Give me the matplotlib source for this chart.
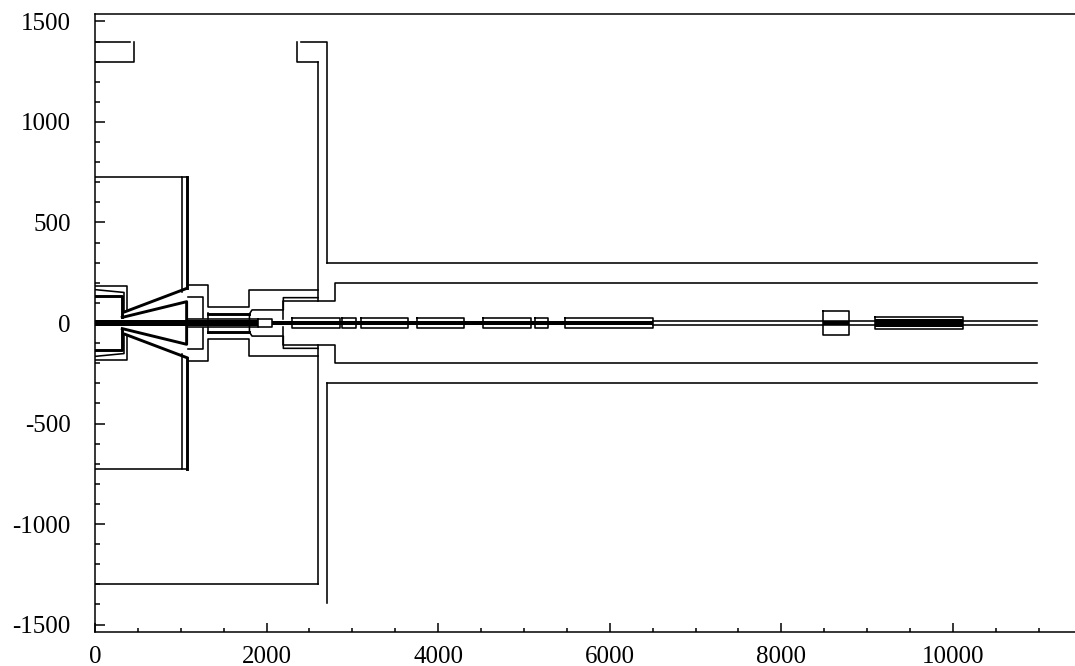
import matplotlib
matplotlib.use("Agg")
import matplotlib.pyplot as plt
from matplotlib.ticker import MultipleLocator

plt.rcParams['font.family'] = ['Liberation Serif', 'DejaVu Serif']

# half profiles, drawn on both sides of the axis (x list, y list)
wall_x = [1010, 1010, 0]
wall_y = [155, 725, 725]
wall2_x = [1010, 1068]
wall2_y = [725, 725]
shaft_x = [2600, 2600]
shaft_y = [1300, 109]
lead_x = [0, 377, 377]
lead_y = [184, 184, 58]
lead2_x = [0, 338, 338]
lead2_y = [166, 152, 56]
step_x = [1088, 1320, 1320, 1800, 1800, 2600]
step_y = [189, 189, 78, 78, 164, 164]
step2_x = [1088, 1255, 1255]
step2_y = [131, 131, 23]
step3_x = [1800, 1800, 1830, 2195, 2195, 2600]
step3_y = [18, 45, 65, 65, 126, 126]
step4_x = [2195, 2195, 2797, 2797, 10980]
step4_y = [18, 109, 109, 200, 200]
tube_x = [2700, 10980]
tube_y = [300, 300]
inner_x = [1068, 1904]
inner_y = [18, 18]
bore_x = [6499, 10980]
bore_y = [12, 12]
pipe_end_x = [1320, 1320]
pipe_end_y = [18, 48]

# thick parts
cone_out_x = [350, 1068]
cone_out_y = [56, 172]
cone_in_x = [318, 318, 0]
cone_in_y = [28, 133, 133]
cone_x = [318, 1068, 1068]
cone_y = [28, 106, 20]
wall3_x = [1068, 1068]
wall3_y = [172, 725]
pipe_x = [1320, 1800]
pipe_y = [44, 44]

# lower side only
cave_x = [0, 2600]
cave_y = [-1300, -1300]
tube_low_x = [2700, 2700]
tube_low_y = [-1395, -300]

# upper side only
notch_left_x = [0, 410]
notch_left_y = [1400, 1400]
notch_right_x = [455, 455, 0]
notch_right_y = [1400, 1300, 1300]
notch2_x = [2350, 2350, 2600]
notch2_y = [1400, 1300, 1300]
top_x = [2400, 2700, 2700]
top_y = [1400, 1400, 300]

# beam line elements: start, end, half height
box_start = [1904, 2296, 2883, 3096, 3749, 4518, 5125, 5474, 8488, 9091]
box_end = [2059, 2855, 3037, 3652, 4301, 5077, 5279, 6499, 8788, 10113]
box_half = [18, 23, 23, 23, 23, 23, 23, 23, 60, 30]

# black core: start, end, half height
core_start = [0, 1068, 2059, 8488, 9091]
core_end = [1068, 1904, 6499, 8788, 10113]
core_half = [14, 16, 10, 12, 18]

THIN = 1.15
THICK = 2.1

fig = plt.figure(figsize=(10.75, 6.66), dpi=100)
ax = fig.add_axes([95 / 1075, 34 / 666, 980 / 1075, 618 / 666])


def both(x, y, lw=THIN):
    ax.plot(x, y, color='black', lw=lw)
    ax.plot(x, [-v for v in y], color='black', lw=lw)


for x, y in [(wall_x, wall_y), (wall2_x, wall2_y), (shaft_x, shaft_y),
             (lead_x, lead_y), (lead2_x, lead2_y), (step_x, step_y),
             (step2_x, step2_y), (step3_x, step3_y), (step4_x, step4_y),
             (tube_x, tube_y), (inner_x, inner_y), (bore_x, bore_y),
             (pipe_end_x, pipe_end_y)]:
    both(x, y)

for x, y in [(cone_out_x, cone_out_y), (cone_in_x, cone_in_y), (cone_x, cone_y),
             (wall3_x, wall3_y), (pipe_x, pipe_y)]:
    both(x, y, THICK)

for x, y in [(cave_x, cave_y), (tube_low_x, tube_low_y), (notch_left_x, notch_left_y),
             (notch_right_x, notch_right_y), (notch2_x, notch2_y), (top_x, top_y)]:
    ax.plot(x, y, color='black', lw=THIN)

for s, e, h in zip(box_start, box_end, box_half):
    ax.plot([s, e, e, s, s], [h, h, -h, -h, h], color='black', lw=THIN)

for s, e, h in zip(core_start, core_end, core_half):
    ax.fill_between([s, e], -h, h, color='black', lw=0)

ax.set_xlim(0, 11422)
ax.set_ylim(-1537, 1537)
ax.spines['right'].set_visible(False)
for side in ['left', 'top', 'bottom']:
    ax.spines[side].set_linewidth(1.1)

ax.xaxis.set_minor_locator(MultipleLocator(500))
ax.yaxis.set_minor_locator(MultipleLocator(100))
ax.tick_params(axis='x', which='major', direction='in', length=6.5, width=1.1, labelsize=18, pad=10)
ax.tick_params(axis='x', which='minor', direction='in', length=2.7, width=1.1)
ax.tick_params(axis='y', which='major', direction='in', length=7, width=1.1, labelsize=18, pad=17.5)
ax.tick_params(axis='y', which='minor', direction='in', length=3.6, width=1.1)

# plain hyphen for negatives, as in the original
ax.yaxis.set_major_formatter(lambda v, pos: f"{int(v)}")
ax.set_yticks([-1500, -1000, -500, 0, 500, 1000, 1500])
ax.set_xticks([0, 2000, 4000, 6000, 8000, 10000])

fig.savefig("out.png", dpi=100)
